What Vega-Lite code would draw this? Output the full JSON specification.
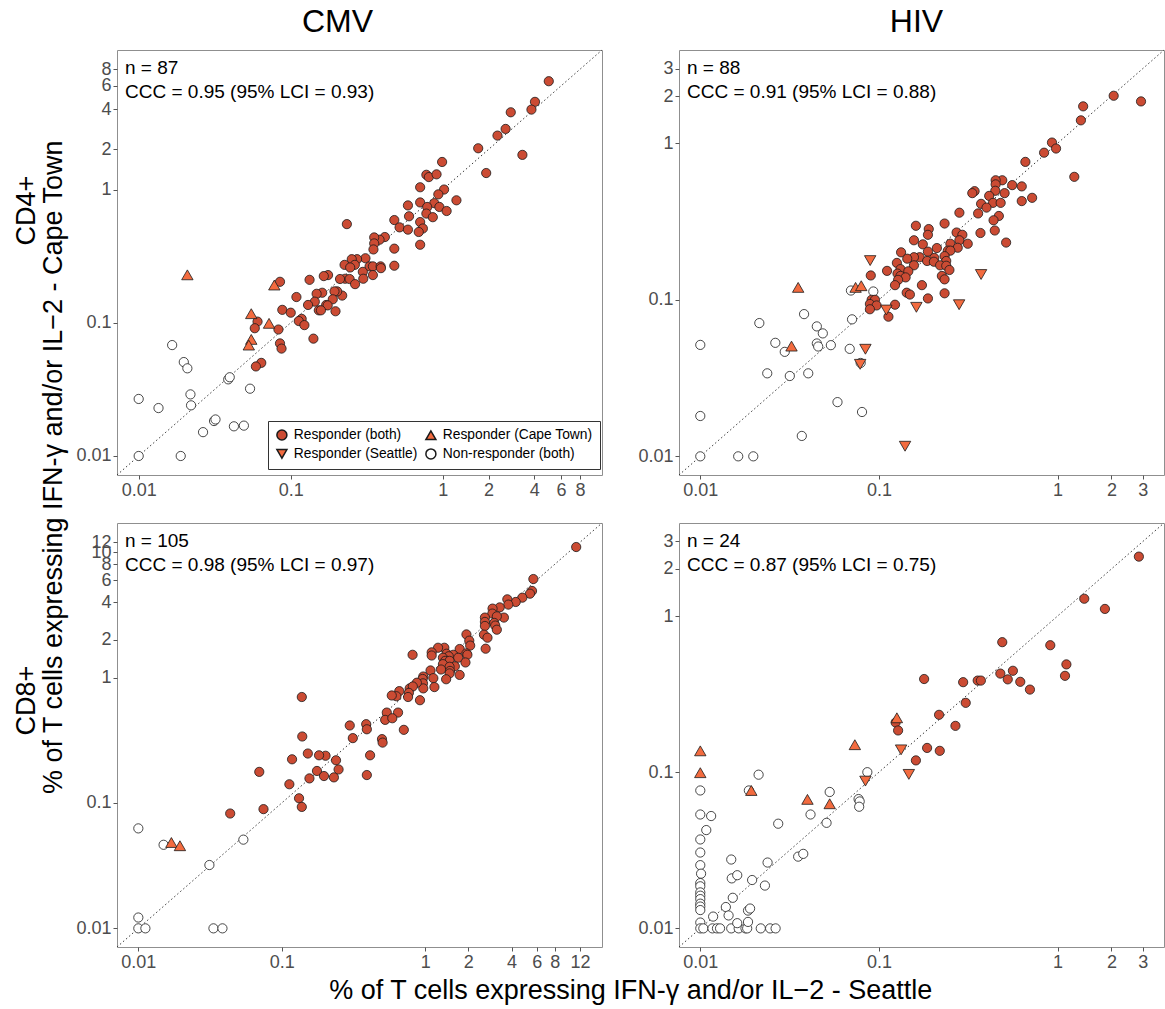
{
"$schema": "https://vega.github.io/schema/vega-lite/v6.json",
"padding": {"left": 12, "top": 5, "right": 3, "bottom": 5},
"config": {
  "font": "Liberation Sans",
  "view": {"stroke": "#8f8f8f", "strokeWidth": 1},
  "axis": {"grid": false, "domain": false, "tickColor": "#555555", "tickSize": 4, "labelFontSize": 18, "labelColor": "#4d4d4d", "labelFont": "Liberation Sans", "labelPadding": 2, "labelOverlap": false, "labelFlush": false, "labelBound": false, "titleFont": "Liberation Sans", "titleFontSize": 27, "titleFontWeight": "normal", "titleColor": "black", "format": "~g"},
  "title": {"font": "Liberation Sans", "fontWeight": "normal", "color": "black"},
  "legend": {"title": null, "orient": "none", "legendX": 151, "legendY": 371, "columns": 2, "direction": "horizontal", "labelFontSize": 13.8, "labelFont": "Liberation Sans", "labelColor": "black", "symbolSize": 100, "strokeColor": "#333333", "fillColor": "white", "padding": 7, "columnPadding": 4, "rowPadding": 2, "labelOffset": 5}
},
"datasets": {
"cmv_cd4": [
{"x":0.0166,"y":0.068,"g":"Non-responder (both)"},{"x":0.0198,"y":0.0507,"g":"Non-responder (both)"},{"x":0.0209,"y":0.0455,"g":"Non-responder (both)"},{"x":0.0388,"y":0.0376,"g":"Non-responder (both)"},{"x":0.0397,"y":0.039,"g":"Non-responder (both)"},{"x":0.054,"y":0.032,"g":"Non-responder (both)"},{"x":0.0219,"y":0.029,"g":"Non-responder (both)"},{"x":0.0221,"y":0.024,"g":"Non-responder (both)"},{"x":0.01,"y":0.0268,"g":"Non-responder (both)"},{"x":0.0135,"y":0.0229,"g":"Non-responder (both)"},{"x":0.0313,"y":0.0183,"g":"Non-responder (both)"},{"x":0.032,"y":0.0188,"g":"Non-responder (both)"},{"x":0.0265,"y":0.0151,"g":"Non-responder (both)"},{"x":0.0423,"y":0.0167,"g":"Non-responder (both)"},{"x":0.0492,"y":0.0169,"g":"Non-responder (both)"},{"x":0.01,"y":0.01,"g":"Non-responder (both)"},{"x":0.0189,"y":0.01,"g":"Non-responder (both)"},
{"x":4.98,"y":6.5,"g":"Responder (both)"},{"x":4.04,"y":4.55,"g":"Responder (both)"},{"x":3.83,"y":3.98,"g":"Responder (both)"},{"x":2.8,"y":3.8,"g":"Responder (both)"},{"x":2.59,"y":2.85,"g":"Responder (both)"},{"x":2.29,"y":2.54,"g":"Responder (both)"},{"x":1.71,"y":2.04,"g":"Responder (both)"},{"x":3.34,"y":1.82,"g":"Responder (both)"},{"x":1.93,"y":1.33,"g":"Responder (both)"},{"x":0.99,"y":1.61,"g":"Responder (both)"},{"x":0.78,"y":1.29,"g":"Responder (both)"},{"x":0.81,"y":1.24,"g":"Responder (both)"},{"x":0.91,"y":1.3,"g":"Responder (both)"},{"x":0.71,"y":1.04,"g":"Responder (both)"},{"x":1.02,"y":1.0,"g":"Responder (both)"},{"x":0.935,"y":0.92,"g":"Responder (both)"},{"x":1.23,"y":0.83,"g":"Responder (both)"},{"x":0.71,"y":0.8,"g":"Responder (both)"},{"x":0.59,"y":0.76,"g":"Responder (both)"},{"x":0.88,"y":0.79,"g":"Responder (both)"},{"x":0.79,"y":0.74,"g":"Responder (both)"},{"x":0.95,"y":0.74,"g":"Responder (both)"},{"x":1.06,"y":0.69,"g":"Responder (both)"},{"x":0.78,"y":0.66,"g":"Responder (both)"},{"x":0.86,"y":0.62,"g":"Responder (both)"},{"x":0.6,"y":0.63,"g":"Responder (both)"},{"x":0.48,"y":0.59,"g":"Responder (both)"},{"x":0.234,"y":0.55,"g":"Responder (both)"},{"x":0.52,"y":0.52,"g":"Responder (both)"},{"x":0.59,"y":0.5,"g":"Responder (both)"},{"x":0.71,"y":0.57,"g":"Responder (both)"},{"x":0.74,"y":0.51,"g":"Responder (both)"},{"x":0.695,"y":0.48,"g":"Responder (both)"},{"x":0.71,"y":0.385,"g":"Responder (both)"},{"x":0.416,"y":0.44,"g":"Responder (both)"},{"x":0.384,"y":0.42,"g":"Responder (both)"},{"x":0.354,"y":0.437,"g":"Responder (both)"},{"x":0.354,"y":0.394,"g":"Responder (both)"},{"x":0.35,"y":0.355,"g":"Responder (both)"},{"x":0.48,"y":0.36,"g":"Responder (both)"},{"x":0.31,"y":0.305,"g":"Responder (both)"},{"x":0.273,"y":0.3,"g":"Responder (both)"},{"x":0.252,"y":0.3,"g":"Responder (both)"},{"x":0.226,"y":0.272,"g":"Responder (both)"},{"x":0.264,"y":0.272,"g":"Responder (both)"},{"x":0.246,"y":0.26,"g":"Responder (both)"},{"x":0.33,"y":0.265,"g":"Responder (both)"},{"x":0.347,"y":0.265,"g":"Responder (both)"},{"x":0.39,"y":0.265,"g":"Responder (both)"},{"x":0.392,"y":0.257,"g":"Responder (both)"},{"x":0.48,"y":0.268,"g":"Responder (both)"},{"x":0.298,"y":0.241,"g":"Responder (both)"},{"x":0.347,"y":0.228,"g":"Responder (both)"},{"x":0.3,"y":0.214,"g":"Responder (both)"},{"x":0.228,"y":0.214,"g":"Responder (both)"},{"x":0.211,"y":0.213,"g":"Responder (both)"},{"x":0.244,"y":0.213,"g":"Responder (both)"},{"x":0.265,"y":0.195,"g":"Responder (both)"},{"x":0.176,"y":0.228,"g":"Responder (both)"},{"x":0.165,"y":0.224,"g":"Responder (both)"},{"x":0.133,"y":0.21,"g":"Responder (both)"},{"x":0.085,"y":0.203,"g":"Responder (both)"},{"x":0.218,"y":0.16,"g":"Responder (both)"},{"x":0.202,"y":0.172,"g":"Responder (both)"},{"x":0.194,"y":0.172,"g":"Responder (both)"},{"x":0.189,"y":0.15,"g":"Responder (both)"},{"x":0.161,"y":0.168,"g":"Responder (both)"},{"x":0.148,"y":0.165,"g":"Responder (both)"},{"x":0.109,"y":0.156,"g":"Responder (both)"},{"x":0.144,"y":0.144,"g":"Responder (both)"},{"x":0.13,"y":0.136,"g":"Responder (both)"},{"x":0.171,"y":0.136,"g":"Responder (both)"},{"x":0.175,"y":0.135,"g":"Responder (both)"},{"x":0.153,"y":0.124,"g":"Responder (both)"},{"x":0.158,"y":0.124,"g":"Responder (both)"},{"x":0.197,"y":0.122,"g":"Responder (both)"},{"x":0.088,"y":0.125,"g":"Responder (both)"},{"x":0.1,"y":0.119,"g":"Responder (both)"},{"x":0.118,"y":0.107,"g":"Responder (both)"},{"x":0.113,"y":0.103,"g":"Responder (both)"},{"x":0.123,"y":0.096,"g":"Responder (both)"},{"x":0.0605,"y":0.102,"g":"Responder (both)"},{"x":0.058,"y":0.091,"g":"Responder (both)"},{"x":0.083,"y":0.089,"g":"Responder (both)"},{"x":0.141,"y":0.076,"g":"Responder (both)"},{"x":0.085,"y":0.07,"g":"Responder (both)"},{"x":0.087,"y":0.064,"g":"Responder (both)"},{"x":0.064,"y":0.05,"g":"Responder (both)"},{"x":0.059,"y":0.047,"g":"Responder (both)"},
{"x":0.0209,"y":0.229,"g":"Responder (Cape Town)"},{"x":0.078,"y":0.192,"g":"Responder (Cape Town)"},{"x":0.055,"y":0.117,"g":"Responder (Cape Town)"},{"x":0.072,"y":0.099,"g":"Responder (Cape Town)"},{"x":0.055,"y":0.075,"g":"Responder (Cape Town)"},{"x":0.053,"y":0.068,"g":"Responder (Cape Town)"}
],
"hiv_cd4": [
{"x":0.0697,"y":0.1146,"g":"Non-responder (both)"},{"x":0.093,"y":0.113,"g":"Non-responder (both)"},{"x":0.0381,"y":0.081,"g":"Non-responder (both)"},{"x":0.0707,"y":0.075,"g":"Non-responder (both)"},{"x":0.0214,"y":0.071,"g":"Non-responder (both)"},{"x":0.0449,"y":0.0676,"g":"Non-responder (both)"},{"x":0.0485,"y":0.061,"g":"Non-responder (both)"},{"x":0.0263,"y":0.0531,"g":"Non-responder (both)"},{"x":0.0449,"y":0.0526,"g":"Non-responder (both)"},{"x":0.0457,"y":0.0503,"g":"Non-responder (both)"},{"x":0.0538,"y":0.0513,"g":"Non-responder (both)"},{"x":0.0297,"y":0.0465,"g":"Non-responder (both)"},{"x":0.0686,"y":0.0486,"g":"Non-responder (both)"},{"x":0.079,"y":0.0395,"g":"Non-responder (both)"},{"x":0.0237,"y":0.0339,"g":"Non-responder (both)"},{"x":0.0317,"y":0.0326,"g":"Non-responder (both)"},{"x":0.0402,"y":0.0339,"g":"Non-responder (both)"},{"x":0.01,"y":0.0515,"g":"Non-responder (both)"},{"x":0.0586,"y":0.0222,"g":"Non-responder (both)"},{"x":0.0804,"y":0.0192,"g":"Non-responder (both)"},{"x":0.01,"y":0.0181,"g":"Non-responder (both)"},{"x":0.037,"y":0.0135,"g":"Non-responder (both)"},{"x":0.01,"y":0.01,"g":"Non-responder (both)"},{"x":0.0163,"y":0.01,"g":"Non-responder (both)"},{"x":0.0198,"y":0.01,"g":"Non-responder (both)"},
{"x":2.93,"y":1.85,"g":"Responder (both)"},{"x":2.06,"y":2.01,"g":"Responder (both)"},{"x":1.39,"y":1.72,"g":"Responder (both)"},{"x":1.35,"y":1.4,"g":"Responder (both)"},{"x":0.93,"y":1.01,"g":"Responder (both)"},{"x":0.98,"y":0.925,"g":"Responder (both)"},{"x":0.84,"y":0.87,"g":"Responder (both)"},{"x":0.66,"y":0.76,"g":"Responder (both)"},{"x":1.24,"y":0.61,"g":"Responder (both)"},{"x":0.49,"y":0.58,"g":"Responder (both)"},{"x":0.45,"y":0.58,"g":"Responder (both)"},{"x":0.45,"y":0.546,"g":"Responder (both)"},{"x":0.557,"y":0.54,"g":"Responder (both)"},{"x":0.63,"y":0.53,"g":"Responder (both)"},{"x":0.343,"y":0.494,"g":"Responder (both)"},{"x":0.333,"y":0.48,"g":"Responder (both)"},{"x":0.448,"y":0.497,"g":"Responder (both)"},{"x":0.505,"y":0.48,"g":"Responder (both)"},{"x":0.414,"y":0.461,"g":"Responder (both)"},{"x":0.72,"y":0.448,"g":"Responder (both)"},{"x":0.63,"y":0.427,"g":"Responder (both)"},{"x":0.373,"y":0.41,"g":"Responder (both)"},{"x":0.435,"y":0.416,"g":"Responder (both)"},{"x":0.48,"y":0.416,"g":"Responder (both)"},{"x":0.4,"y":0.388,"g":"Responder (both)"},{"x":0.282,"y":0.36,"g":"Responder (both)"},{"x":0.359,"y":0.356,"g":"Responder (both)"},{"x":0.469,"y":0.343,"g":"Responder (both)"},{"x":0.438,"y":0.322,"g":"Responder (both)"},{"x":0.445,"y":0.277,"g":"Responder (both)"},{"x":0.515,"y":0.232,"g":"Responder (both)"},{"x":0.37,"y":0.267,"g":"Responder (both)"},{"x":0.233,"y":0.307,"g":"Responder (both)"},{"x":0.161,"y":0.297,"g":"Responder (both)"},{"x":0.19,"y":0.283,"g":"Responder (both)"},{"x":0.188,"y":0.26,"g":"Responder (both)"},{"x":0.272,"y":0.269,"g":"Responder (both)"},{"x":0.293,"y":0.26,"g":"Responder (both)"},{"x":0.282,"y":0.24,"g":"Responder (both)"},{"x":0.157,"y":0.24,"g":"Responder (both)"},{"x":0.176,"y":0.226,"g":"Responder (both)"},{"x":0.251,"y":0.228,"g":"Responder (both)"},{"x":0.314,"y":0.228,"g":"Responder (both)"},{"x":0.211,"y":0.214,"g":"Responder (both)"},{"x":0.276,"y":0.215,"g":"Responder (both)"},{"x":0.243,"y":0.206,"g":"Responder (both)"},{"x":0.251,"y":0.206,"g":"Responder (both)"},{"x":0.188,"y":0.203,"g":"Responder (both)"},{"x":0.133,"y":0.201,"g":"Responder (both)"},{"x":0.233,"y":0.19,"g":"Responder (both)"},{"x":0.169,"y":0.187,"g":"Responder (both)"},{"x":0.157,"y":0.187,"g":"Responder (both)"},{"x":0.144,"y":0.183,"g":"Responder (both)"},{"x":0.204,"y":0.185,"g":"Responder (both)"},{"x":0.186,"y":0.177,"g":"Responder (both)"},{"x":0.203,"y":0.175,"g":"Responder (both)"},{"x":0.238,"y":0.177,"g":"Responder (both)"},{"x":0.126,"y":0.172,"g":"Responder (both)"},{"x":0.22,"y":0.166,"g":"Responder (both)"},{"x":0.238,"y":0.165,"g":"Responder (both)"},{"x":0.157,"y":0.166,"g":"Responder (both)"},{"x":0.111,"y":0.153,"g":"Responder (both)"},{"x":0.132,"y":0.157,"g":"Responder (both)"},{"x":0.248,"y":0.155,"g":"Responder (both)"},{"x":0.146,"y":0.152,"g":"Responder (both)"},{"x":0.127,"y":0.147,"g":"Responder (both)"},{"x":0.132,"y":0.142,"g":"Responder (both)"},{"x":0.141,"y":0.139,"g":"Responder (both)"},{"x":0.128,"y":0.134,"g":"Responder (both)"},{"x":0.225,"y":0.142,"g":"Responder (both)"},{"x":0.233,"y":0.135,"g":"Responder (both)"},{"x":0.09,"y":0.143,"g":"Responder (both)"},{"x":0.123,"y":0.124,"g":"Responder (both)"},{"x":0.174,"y":0.124,"g":"Responder (both)"},{"x":0.143,"y":0.111,"g":"Responder (both)"},{"x":0.149,"y":0.108,"g":"Responder (both)"},{"x":0.233,"y":0.11,"g":"Responder (both)"},{"x":0.188,"y":0.102,"g":"Responder (both)"},{"x":0.091,"y":0.1,"g":"Responder (both)"},{"x":0.095,"y":0.1,"g":"Responder (both)"},{"x":0.089,"y":0.094,"g":"Responder (both)"},{"x":0.097,"y":0.092,"g":"Responder (both)"},{"x":0.089,"y":0.087,"g":"Responder (both)"},{"x":0.123,"y":0.093,"g":"Responder (both)"},{"x":0.113,"y":0.078,"g":"Responder (both)"},
{"x":0.0353,"y":0.12,"g":"Responder (Cape Town)"},{"x":0.074,"y":0.12,"g":"Responder (Cape Town)"},{"x":0.0796,"y":0.123,"g":"Responder (Cape Town)"},{"x":0.0324,"y":0.0506,"g":"Responder (Cape Town)"},
{"x":0.0893,"y":0.178,"g":"Responder (Seattle)"},{"x":0.373,"y":0.145,"g":"Responder (Seattle)"},{"x":0.11,"y":0.086,"g":"Responder (Seattle)"},{"x":0.162,"y":0.0895,"g":"Responder (Seattle)"},{"x":0.281,"y":0.093,"g":"Responder (Seattle)"},{"x":0.084,"y":0.0483,"g":"Responder (Seattle)"},{"x":0.0785,"y":0.0387,"g":"Responder (Seattle)"},{"x":0.14,"y":0.0116,"g":"Responder (Seattle)"}
],
"cmv_cd8": [
{"x":0.01,"y":0.0627,"g":"Non-responder (both)"},{"x":0.015,"y":0.0464,"g":"Non-responder (both)"},{"x":0.054,"y":0.051,"g":"Non-responder (both)"},{"x":0.0313,"y":0.032,"g":"Non-responder (both)"},{"x":0.01,"y":0.0122,"g":"Non-responder (both)"},{"x":0.01,"y":0.01,"g":"Non-responder (both)"},{"x":0.0112,"y":0.01,"g":"Non-responder (both)"},{"x":0.0334,"y":0.01,"g":"Non-responder (both)"},{"x":0.0386,"y":0.01,"g":"Non-responder (both)"},
{"x":11.3,"y":11.0,"g":"Responder (both)"},{"x":5.68,"y":6.11,"g":"Responder (both)"},{"x":5.56,"y":4.91,"g":"Responder (both)"},{"x":5.38,"y":4.67,"g":"Responder (both)"},{"x":4.76,"y":4.34,"g":"Responder (both)"},{"x":4.28,"y":4.01,"g":"Responder (both)"},{"x":3.74,"y":4.21,"g":"Responder (both)"},{"x":3.8,"y":3.82,"g":"Responder (both)"},{"x":3.31,"y":3.63,"g":"Responder (both)"},{"x":2.95,"y":3.55,"g":"Responder (both)"},{"x":2.94,"y":3.24,"g":"Responder (both)"},{"x":3.54,"y":3.01,"g":"Responder (both)"},{"x":3.16,"y":3.08,"g":"Responder (both)"},{"x":2.61,"y":3.01,"g":"Responder (both)"},{"x":2.61,"y":2.78,"g":"Responder (both)"},{"x":2.61,"y":2.58,"g":"Responder (both)"},{"x":3.03,"y":2.73,"g":"Responder (both)"},{"x":3.08,"y":2.6,"g":"Responder (both)"},{"x":3.16,"y":2.41,"g":"Responder (both)"},{"x":2.57,"y":2.2,"g":"Responder (both)"},{"x":2.72,"y":2.08,"g":"Responder (both)"},{"x":2.64,"y":1.7,"g":"Responder (both)"},{"x":1.94,"y":2.21,"g":"Responder (both)"},{"x":2.03,"y":1.97,"g":"Responder (both)"},{"x":2.06,"y":1.8,"g":"Responder (both)"},{"x":1.74,"y":1.69,"g":"Responder (both)"},{"x":1.36,"y":1.73,"g":"Responder (both)"},{"x":1.23,"y":1.73,"g":"Responder (both)"},{"x":1.11,"y":1.59,"g":"Responder (both)"},{"x":1.11,"y":1.5,"g":"Responder (both)"},{"x":1.41,"y":1.55,"g":"Responder (both)"},{"x":1.57,"y":1.52,"g":"Responder (both)"},{"x":1.94,"y":1.56,"g":"Responder (both)"},{"x":1.97,"y":1.52,"g":"Responder (both)"},{"x":1.7,"y":1.44,"g":"Responder (both)"},{"x":1.91,"y":1.32,"g":"Responder (both)"},{"x":1.46,"y":1.48,"g":"Responder (both)"},{"x":1.33,"y":1.44,"g":"Responder (both)"},{"x":1.38,"y":1.36,"g":"Responder (both)"},{"x":1.48,"y":1.36,"g":"Responder (both)"},{"x":1.33,"y":1.28,"g":"Responder (both)"},{"x":1.61,"y":1.23,"g":"Responder (both)"},{"x":1.48,"y":1.22,"g":"Responder (both)"},{"x":1.29,"y":1.16,"g":"Responder (both)"},{"x":1.49,"y":1.13,"g":"Responder (both)"},{"x":1.48,"y":1.08,"g":"Responder (both)"},{"x":1.74,"y":1.05,"g":"Responder (both)"},{"x":1.09,"y":1.14,"g":"Responder (both)"},{"x":1.4,"y":0.97,"g":"Responder (both)"},{"x":1.14,"y":0.99,"g":"Responder (both)"},{"x":1.16,"y":0.84,"g":"Responder (both)"},{"x":0.97,"y":1.02,"g":"Responder (both)"},{"x":0.96,"y":0.975,"g":"Responder (both)"},{"x":0.965,"y":0.9,"g":"Responder (both)"},{"x":0.97,"y":0.82,"g":"Responder (both)"},{"x":0.875,"y":0.91,"g":"Responder (both)"},{"x":0.817,"y":1.52,"g":"Responder (both)"},{"x":0.78,"y":0.82,"g":"Responder (both)"},{"x":0.82,"y":0.85,"g":"Responder (both)"},{"x":0.77,"y":0.755,"g":"Responder (both)"},{"x":0.92,"y":0.66,"g":"Responder (both)"},{"x":0.66,"y":0.78,"g":"Responder (both)"},{"x":0.63,"y":0.71,"g":"Responder (both)"},{"x":0.585,"y":0.72,"g":"Responder (both)"},{"x":0.76,"y":0.7,"g":"Responder (both)"},{"x":0.54,"y":0.526,"g":"Responder (both)"},{"x":0.647,"y":0.526,"g":"Responder (both)"},{"x":0.526,"y":0.46,"g":"Responder (both)"},{"x":0.59,"y":0.474,"g":"Responder (both)"},{"x":0.71,"y":0.383,"g":"Responder (both)"},{"x":0.5,"y":0.323,"g":"Responder (both)"},{"x":0.505,"y":0.303,"g":"Responder (both)"},{"x":0.388,"y":0.425,"g":"Responder (both)"},{"x":0.392,"y":0.387,"g":"Responder (both)"},{"x":0.298,"y":0.415,"g":"Responder (both)"},{"x":0.313,"y":0.329,"g":"Responder (both)"},{"x":0.413,"y":0.24,"g":"Responder (both)"},{"x":0.392,"y":0.167,"g":"Responder (both)"},{"x":0.239,"y":0.219,"g":"Responder (both)"},{"x":0.249,"y":0.185,"g":"Responder (both)"},{"x":0.231,"y":0.16,"g":"Responder (both)"},{"x":0.202,"y":0.238,"g":"Responder (both)"},{"x":0.182,"y":0.24,"g":"Responder (both)"},{"x":0.176,"y":0.18,"g":"Responder (both)"},{"x":0.197,"y":0.164,"g":"Responder (both)"},{"x":0.152,"y":0.248,"g":"Responder (both)"},{"x":0.156,"y":0.157,"g":"Responder (both)"},{"x":0.118,"y":0.223,"g":"Responder (both)"},{"x":0.139,"y":0.339,"g":"Responder (both)"},{"x":0.138,"y":0.7,"g":"Responder (both)"},{"x":0.113,"y":0.141,"g":"Responder (both)"},{"x":0.132,"y":0.109,"g":"Responder (both)"},{"x":0.138,"y":0.093,"g":"Responder (both)"},{"x":0.0697,"y":0.177,"g":"Responder (both)"},{"x":0.0746,"y":0.0893,"g":"Responder (both)"},{"x":0.0437,"y":0.0824,"g":"Responder (both)"},
{"x":0.017,"y":0.0484,"g":"Responder (Cape Town)"},{"x":0.0195,"y":0.0456,"g":"Responder (Cape Town)"}
],
"hiv_cd8": [
{"x":0.0212,"y":0.0964,"g":"Non-responder (both)"},{"x":0.0861,"y":0.1,"g":"Non-responder (both)"},{"x":0.0187,"y":0.0764,"g":"Non-responder (both)"},{"x":0.01,"y":0.0764,"g":"Non-responder (both)"},{"x":0.053,"y":0.0747,"g":"Non-responder (both)"},{"x":0.0769,"y":0.0673,"g":"Non-responder (both)"},{"x":0.078,"y":0.065,"g":"Non-responder (both)"},{"x":0.0775,"y":0.0601,"g":"Non-responder (both)"},{"x":0.0414,"y":0.0536,"g":"Non-responder (both)"},{"x":0.01,"y":0.0536,"g":"Non-responder (both)"},{"x":0.0115,"y":0.0524,"g":"Non-responder (both)"},{"x":0.0273,"y":0.0468,"g":"Non-responder (both)"},{"x":0.0509,"y":0.0474,"g":"Non-responder (both)"},{"x":0.0108,"y":0.0426,"g":"Non-responder (both)"},{"x":0.01,"y":0.0371,"g":"Non-responder (both)"},{"x":0.01,"y":0.0306,"g":"Non-responder (both)"},{"x":0.01,"y":0.0254,"g":"Non-responder (both)"},{"x":0.0101,"y":0.0224,"g":"Non-responder (both)"},{"x":0.01,"y":0.0195,"g":"Non-responder (both)"},{"x":0.01,"y":0.0186,"g":"Non-responder (both)"},{"x":0.01,"y":0.017,"g":"Non-responder (both)"},{"x":0.01,"y":0.0162,"g":"Non-responder (both)"},{"x":0.01,"y":0.0154,"g":"Non-responder (both)"},{"x":0.01,"y":0.0144,"g":"Non-responder (both)"},{"x":0.01,"y":0.0138,"g":"Non-responder (both)"},{"x":0.01,"y":0.0131,"g":"Non-responder (both)"},{"x":0.01,"y":0.0109,"g":"Non-responder (both)"},{"x":0.01,"y":0.01,"g":"Non-responder (both)"},{"x":0.0104,"y":0.01,"g":"Non-responder (both)"},{"x":0.0117,"y":0.01,"g":"Non-responder (both)"},{"x":0.0124,"y":0.01,"g":"Non-responder (both)"},{"x":0.0129,"y":0.01,"g":"Non-responder (both)"},{"x":0.0149,"y":0.01,"g":"Non-responder (both)"},{"x":0.0164,"y":0.01,"g":"Non-responder (both)"},{"x":0.0179,"y":0.01,"g":"Non-responder (both)"},{"x":0.0183,"y":0.01,"g":"Non-responder (both)"},{"x":0.0218,"y":0.01,"g":"Non-responder (both)"},{"x":0.0246,"y":0.01,"g":"Non-responder (both)"},{"x":0.0264,"y":0.01,"g":"Non-responder (both)"},{"x":0.0118,"y":0.0119,"g":"Non-responder (both)"},{"x":0.0139,"y":0.0137,"g":"Non-responder (both)"},{"x":0.0144,"y":0.0121,"g":"Non-responder (both)"},{"x":0.0152,"y":0.0157,"g":"Non-responder (both)"},{"x":0.0161,"y":0.0108,"g":"Non-responder (both)"},{"x":0.015,"y":0.0209,"g":"Non-responder (both)"},{"x":0.0161,"y":0.0219,"g":"Non-responder (both)"},{"x":0.0149,"y":0.0276,"g":"Non-responder (both)"},{"x":0.0195,"y":0.0204,"g":"Non-responder (both)"},{"x":0.0185,"y":0.013,"g":"Non-responder (both)"},{"x":0.019,"y":0.0134,"g":"Non-responder (both)"},{"x":0.0185,"y":0.011,"g":"Non-responder (both)"},{"x":0.023,"y":0.0188,"g":"Non-responder (both)"},{"x":0.0238,"y":0.0264,"g":"Non-responder (both)"},{"x":0.0353,"y":0.0288,"g":"Non-responder (both)"},{"x":0.0377,"y":0.03,"g":"Non-responder (both)"},
{"x":2.85,"y":2.4,"g":"Responder (both)"},{"x":1.41,"y":1.29,"g":"Responder (both)"},{"x":1.84,"y":1.11,"g":"Responder (both)"},{"x":0.49,"y":0.68,"g":"Responder (both)"},{"x":0.91,"y":0.65,"g":"Responder (both)"},{"x":1.12,"y":0.49,"g":"Responder (both)"},{"x":1.1,"y":0.414,"g":"Responder (both)"},{"x":0.478,"y":0.428,"g":"Responder (both)"},{"x":0.562,"y":0.446,"g":"Responder (both)"},{"x":0.526,"y":0.393,"g":"Responder (both)"},{"x":0.618,"y":0.379,"g":"Responder (both)"},{"x":0.7,"y":0.338,"g":"Responder (both)"},{"x":0.357,"y":0.386,"g":"Responder (both)"},{"x":0.372,"y":0.386,"g":"Responder (both)"},{"x":0.296,"y":0.377,"g":"Responder (both)"},{"x":0.179,"y":0.395,"g":"Responder (both)"},{"x":0.306,"y":0.278,"g":"Responder (both)"},{"x":0.217,"y":0.233,"g":"Responder (both)"},{"x":0.268,"y":0.198,"g":"Responder (both)"},{"x":0.124,"y":0.208,"g":"Responder (both)"},{"x":0.128,"y":0.185,"g":"Responder (both)"},{"x":0.186,"y":0.143,"g":"Responder (both)"},{"x":0.219,"y":0.137,"g":"Responder (both)"},{"x":0.161,"y":0.119,"g":"Responder (both)"},
{"x":0.01,"y":0.137,"g":"Responder (Cape Town)"},{"x":0.01,"y":0.0993,"g":"Responder (Cape Town)"},{"x":0.0193,"y":0.0764,"g":"Responder (Cape Town)"},{"x":0.0398,"y":0.067,"g":"Responder (Cape Town)"},{"x":0.053,"y":0.0628,"g":"Responder (Cape Town)"},{"x":0.0733,"y":0.15,"g":"Responder (Cape Town)"},{"x":0.126,"y":0.223,"g":"Responder (Cape Town)"},
{"x":0.133,"y":0.139,"g":"Responder (Seattle)"},{"x":0.147,"y":0.0968,"g":"Responder (Seattle)"},{"x":0.084,"y":0.0877,"g":"Responder (Seattle)"}
]
},
"title": {"text": "% of T cells expressing IFN-γ and/or IL−2 - Cape Town", "orient": "left", "anchor": "middle", "fontSize": 27, "offset": -56, "dx": 37},
"spacing": 22,
"vconcat": [
{"hconcat": [
{"width": 485, "height": 425, "data": {"name": "cmv_cd4"},
 "title": {"text": "CMV", "fontSize": 32, "anchor": "middle", "frame": "group", "offset": 11, "dx": -22},
 "layer": [
  {"data": {"values": [{}]},
   "mark": {"type": "rule", "strokeDash": [1.5, 2.5], "color": "#3a3a3a", "strokeWidth": 1},
   "encoding": {
    "x": {"datum": 0.0072, "type": "quantitative", "scale": {"type": "log", "domain": [0.0072, 11.15], "nice": false}, "axis": {"values": [0.01,0.1,1,2,4,6,8], "title": null}},
    "y": {"datum": 0.0072, "type": "quantitative", "scale": {"type": "log", "domain": [0.0072, 11.15], "nice": false}, "axis": {"values": [0.01,0.1,1,2,4,6,8], "title": "CD4+", "titlePadding": 35, "titleY": 160}},
    "x2": {"datum": 11.15}, "y2": {"datum": 11.15}}},
  {"mark": {"type": "point", "filled": true, "opacity": 1, "stroke": "#1a1a1a", "strokeWidth": 0.8},
   "encoding": {
    "x": {"field": "x", "type": "quantitative", "scale": {"type": "log", "domain": [0.0072, 11.15], "nice": false}, "axis": {"values": [0.01,0.1,1,2,4,6,8], "title": null}},
    "y": {"field": "y", "type": "quantitative", "scale": {"type": "log", "domain": [0.0072, 11.15], "nice": false}, "axis": {"values": [0.01,0.1,1,2,4,6,8], "title": "CD4+", "titlePadding": 35, "titleY": 160}},
    "fill": {"field": "g", "type": "nominal", "scale": {"domain": ["Responder (both)", "Responder (Cape Town)", "Responder (Seattle)", "Non-responder (both)"], "range": ["#CB4B33", "#F36B3F", "#F36B3F", "#FFFFFF"]}, "legend": {"encode": {"symbols": {"update": {"stroke": {"value": "#1a1a1a"}, "strokeWidth": {"value": 0.8}}}}}},
    "shape": {"field": "g", "type": "nominal", "scale": {"domain": ["Responder (both)", "Responder (Cape Town)", "Responder (Seattle)", "Non-responder (both)"], "range": ["circle", "triangle-up", "triangle-down", "circle"]}, "legend": {"encode": {"symbols": {"update": {"stroke": {"value": "#1a1a1a"}, "strokeWidth": {"value": 0.8}}}}}},
    "size": {"condition": {"test": "datum.g === 'Responder (Cape Town)' || datum.g === 'Responder (Seattle)'", "value": 130}, "value": 85}}},
  {"data": {"values": [{}]},
   "mark": {"type": "text", "align": "left", "baseline": "top", "dx": 8, "dy": 9, "fontSize": 19, "lineHeight": 24, "fill": "black", "font": "Liberation Sans", "text": ["n = 87", "CCC = 0.95 (95% LCI = 0.93)"]},
   "encoding": {
    "x": {"datum": 0.0072, "type": "quantitative", "scale": {"type": "log", "domain": [0.0072, 11.15], "nice": false}, "axis": {"values": [0.01,0.1,1,2,4,6,8], "title": null}},
    "y": {"datum": 11.15, "type": "quantitative", "scale": {"type": "log", "domain": [0.0072, 11.15], "nice": false}, "axis": {"values": [0.01,0.1,1,2,4,6,8], "title": "CD4+", "titlePadding": 35, "titleY": 160}}}}
 ]},
{"width": 485, "height": 425, "data": {"name": "hiv_cd4"},
 "title": {"text": "HIV", "fontSize": 32, "anchor": "middle", "frame": "group", "offset": 11, "dx": -5},
 "layer": [
  {"data": {"values": [{}]},
   "mark": {"type": "rule", "strokeDash": [1.5, 2.5], "color": "#3a3a3a", "strokeWidth": 1},
   "encoding": {
    "x": {"datum": 0.0076, "type": "quantitative", "scale": {"type": "log", "domain": [0.0076, 3.94], "nice": false}, "axis": {"values": [0.01,0.1,1,2,3], "title": null}},
    "y": {"datum": 0.0076, "type": "quantitative", "scale": {"type": "log", "domain": [0.0076, 3.94], "nice": false}, "axis": {"values": [0.01,0.1,1,2,3], "title": null}},
    "x2": {"datum": 3.94}, "y2": {"datum": 3.94}}},
  {"mark": {"type": "point", "filled": true, "opacity": 1, "stroke": "#1a1a1a", "strokeWidth": 0.8},
   "encoding": {
    "x": {"field": "x", "type": "quantitative", "scale": {"type": "log", "domain": [0.0076, 3.94], "nice": false}, "axis": {"values": [0.01,0.1,1,2,3], "title": null}},
    "y": {"field": "y", "type": "quantitative", "scale": {"type": "log", "domain": [0.0076, 3.94], "nice": false}, "axis": {"values": [0.01,0.1,1,2,3], "title": null}},
    "fill": {"field": "g", "type": "nominal", "scale": {"domain": ["Responder (both)", "Responder (Cape Town)", "Responder (Seattle)", "Non-responder (both)"], "range": ["#CB4B33", "#F36B3F", "#F36B3F", "#FFFFFF"]}, "legend": {"encode": {"symbols": {"update": {"stroke": {"value": "#1a1a1a"}, "strokeWidth": {"value": 0.8}}}}}},
    "shape": {"field": "g", "type": "nominal", "scale": {"domain": ["Responder (both)", "Responder (Cape Town)", "Responder (Seattle)", "Non-responder (both)"], "range": ["circle", "triangle-up", "triangle-down", "circle"]}, "legend": {"encode": {"symbols": {"update": {"stroke": {"value": "#1a1a1a"}, "strokeWidth": {"value": 0.8}}}}}},
    "size": {"condition": {"test": "datum.g === 'Responder (Cape Town)' || datum.g === 'Responder (Seattle)'", "value": 130}, "value": 85}}},
  {"data": {"values": [{}]},
   "mark": {"type": "text", "align": "left", "baseline": "top", "dx": 8, "dy": 9, "fontSize": 19, "lineHeight": 24, "fill": "black", "font": "Liberation Sans", "text": ["n = 88", "CCC = 0.91 (95% LCI = 0.88)"]},
   "encoding": {
    "x": {"datum": 0.0076, "type": "quantitative", "scale": {"type": "log", "domain": [0.0076, 3.94], "nice": false}, "axis": {"values": [0.01,0.1,1,2,3], "title": null}},
    "y": {"datum": 3.94, "type": "quantitative", "scale": {"type": "log", "domain": [0.0076, 3.94], "nice": false}, "axis": {"values": [0.01,0.1,1,2,3], "title": null}}}}
 ]}
], "spacing": 34},
{"hconcat": [
{"width": 485, "height": 424, "data": {"name": "cmv_cd8"},
 "layer": [
  {"data": {"values": [{}]},
   "mark": {"type": "rule", "strokeDash": [1.5, 2.5], "color": "#3a3a3a", "strokeWidth": 1},
   "encoding": {
    "x": {"datum": 0.0071, "type": "quantitative", "scale": {"type": "log", "domain": [0.0071, 17.1], "nice": false}, "axis": {"values": [0.01,0.1,1,2,4,6,8,12], "title": null}},
    "y": {"datum": 0.0071, "type": "quantitative", "scale": {"type": "log", "domain": [0.0071, 17.1], "nice": false}, "axis": {"values": [0.01,0.1,1,2,4,6,8,10,12], "title": "CD8+", "titlePadding": 35, "titleY": 177}},
    "x2": {"datum": 17.1}, "y2": {"datum": 17.1}}},
  {"mark": {"type": "point", "filled": true, "opacity": 1, "stroke": "#1a1a1a", "strokeWidth": 0.8},
   "encoding": {
    "x": {"field": "x", "type": "quantitative", "scale": {"type": "log", "domain": [0.0071, 17.1], "nice": false}, "axis": {"values": [0.01,0.1,1,2,4,6,8,12], "title": null}},
    "y": {"field": "y", "type": "quantitative", "scale": {"type": "log", "domain": [0.0071, 17.1], "nice": false}, "axis": {"values": [0.01,0.1,1,2,4,6,8,10,12], "title": "CD8+", "titlePadding": 35, "titleY": 177}},
    "fill": {"field": "g", "type": "nominal", "scale": {"domain": ["Responder (both)", "Responder (Cape Town)", "Responder (Seattle)", "Non-responder (both)"], "range": ["#CB4B33", "#F36B3F", "#F36B3F", "#FFFFFF"]}, "legend": {"encode": {"symbols": {"update": {"stroke": {"value": "#1a1a1a"}, "strokeWidth": {"value": 0.8}}}}}},
    "shape": {"field": "g", "type": "nominal", "scale": {"domain": ["Responder (both)", "Responder (Cape Town)", "Responder (Seattle)", "Non-responder (both)"], "range": ["circle", "triangle-up", "triangle-down", "circle"]}, "legend": {"encode": {"symbols": {"update": {"stroke": {"value": "#1a1a1a"}, "strokeWidth": {"value": 0.8}}}}}},
    "size": {"condition": {"test": "datum.g === 'Responder (Cape Town)' || datum.g === 'Responder (Seattle)'", "value": 130}, "value": 85}}},
  {"data": {"values": [{}]},
   "mark": {"type": "text", "align": "left", "baseline": "top", "dx": 8, "dy": 9, "fontSize": 19, "lineHeight": 24, "fill": "black", "font": "Liberation Sans", "text": ["n = 105", "CCC = 0.98 (95% LCI = 0.97)"]},
   "encoding": {
    "x": {"datum": 0.0071, "type": "quantitative", "scale": {"type": "log", "domain": [0.0071, 17.1], "nice": false}, "axis": {"values": [0.01,0.1,1,2,4,6,8,12], "title": null}},
    "y": {"datum": 17.1, "type": "quantitative", "scale": {"type": "log", "domain": [0.0071, 17.1], "nice": false}, "axis": {"values": [0.01,0.1,1,2,4,6,8,10,12], "title": "CD8+", "titlePadding": 35, "titleY": 177}}}}
 ]},
{"width": 485, "height": 424, "data": {"name": "hiv_cd8"},
 "layer": [
  {"data": {"values": [{}]},
   "mark": {"type": "rule", "strokeDash": [1.5, 2.5], "color": "#3a3a3a", "strokeWidth": 1},
   "encoding": {
    "x": {"datum": 0.0076, "type": "quantitative", "scale": {"type": "log", "domain": [0.0076, 3.94], "nice": false}, "axis": {"values": [0.01,0.1,1,2,3], "title": null}},
    "y": {"datum": 0.0076, "type": "quantitative", "scale": {"type": "log", "domain": [0.0076, 3.94], "nice": false}, "axis": {"values": [0.01,0.1,1,2,3], "title": null}},
    "x2": {"datum": 3.94}, "y2": {"datum": 3.94}}},
  {"mark": {"type": "point", "filled": true, "opacity": 1, "stroke": "#1a1a1a", "strokeWidth": 0.8},
   "encoding": {
    "x": {"field": "x", "type": "quantitative", "scale": {"type": "log", "domain": [0.0076, 3.94], "nice": false}, "axis": {"values": [0.01,0.1,1,2,3], "title": null}},
    "y": {"field": "y", "type": "quantitative", "scale": {"type": "log", "domain": [0.0076, 3.94], "nice": false}, "axis": {"values": [0.01,0.1,1,2,3], "title": null}},
    "fill": {"field": "g", "type": "nominal", "scale": {"domain": ["Responder (both)", "Responder (Cape Town)", "Responder (Seattle)", "Non-responder (both)"], "range": ["#CB4B33", "#F36B3F", "#F36B3F", "#FFFFFF"]}, "legend": {"encode": {"symbols": {"update": {"stroke": {"value": "#1a1a1a"}, "strokeWidth": {"value": 0.8}}}}}},
    "shape": {"field": "g", "type": "nominal", "scale": {"domain": ["Responder (both)", "Responder (Cape Town)", "Responder (Seattle)", "Non-responder (both)"], "range": ["circle", "triangle-up", "triangle-down", "circle"]}, "legend": {"encode": {"symbols": {"update": {"stroke": {"value": "#1a1a1a"}, "strokeWidth": {"value": 0.8}}}}}},
    "size": {"condition": {"test": "datum.g === 'Responder (Cape Town)' || datum.g === 'Responder (Seattle)'", "value": 130}, "value": 85}}},
  {"data": {"values": [{}]},
   "mark": {"type": "text", "align": "left", "baseline": "top", "dx": 8, "dy": 9, "fontSize": 19, "lineHeight": 24, "fill": "black", "font": "Liberation Sans", "text": ["n = 24", "CCC = 0.87 (95% LCI = 0.75)"]},
   "encoding": {
    "x": {"datum": 0.0076, "type": "quantitative", "scale": {"type": "log", "domain": [0.0076, 3.94], "nice": false}, "axis": {"values": [0.01,0.1,1,2,3], "title": null}},
    "y": {"datum": 3.94, "type": "quantitative", "scale": {"type": "log", "domain": [0.0076, 3.94], "nice": false}, "axis": {"values": [0.01,0.1,1,2,3], "title": null}}}}
 ]}
], "spacing": 34,
 "title": {"text": "% of T cells expressing IFN-γ and/or IL−2 - Seattle", "orient": "bottom", "anchor": "middle", "fontSize": 27, "offset": 6, "dx": 42}}
]
}
